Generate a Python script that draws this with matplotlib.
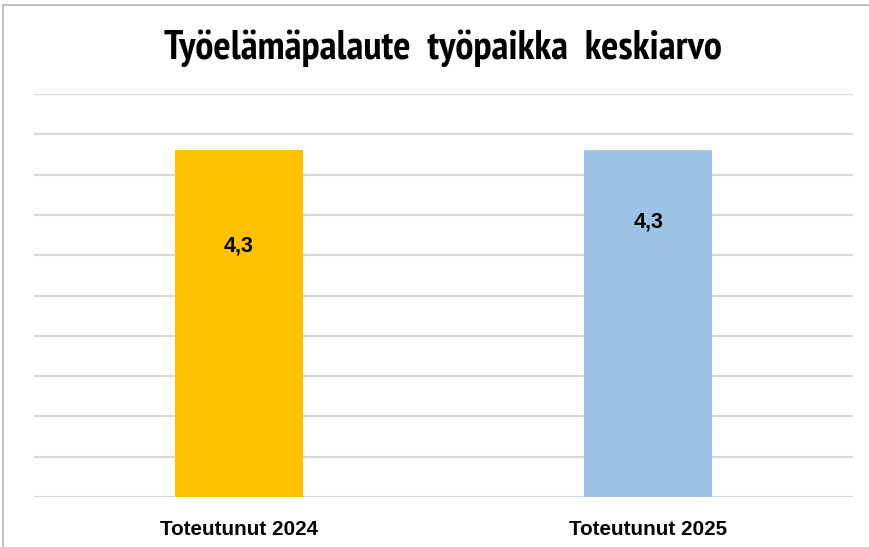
import matplotlib
matplotlib.use("Agg")
import matplotlib.pyplot as plt
from matplotlib import font_manager
from matplotlib.lines import Line2D

categories = ["Toteutunut 2024", "Toteutunut 2025"]
values = [4.3, 4.3]
value_labels = ["4,3", "4,3"]
bar_colors = ["#FFC000", "#9DC3E6"]
label_y = [3.11, 3.41]  # vertical placement of the value labels inside the bars
title = "Työelämäpalaute  työpaikka  keskiarvo"

installed = {f.name for f in font_manager.fontManager.ttflist}
narrow_pref = ["Liberation Sans Narrow", "Arial Narrow", "PT Sans Narrow",
               "Roboto Condensed", "Archivo Narrow", "Open Sans Condensed",
               "Barlow Semi Condensed"]
narrow = [n for n in narrow_pref if n in installed][:1] + ["DejaVu Sans"]
regular = ["Liberation Sans", "DejaVu Sans"]

W, H = 869, 547
fig = plt.figure(figsize=(W / 100, H / 100), dpi=100)
ax = fig.add_axes([34 / W, 1 - 497 / H, (853 - 34) / W, (497 - 94) / H])

x = list(range(len(categories)))
ax.bar(x, values, width=0.3125, color=bar_colors, zorder=3)
ax.set_xlim(-0.5, 1.5)
ax.set_ylim(0, 5)
ax.set_yticks([i * 0.5 for i in range(11)])
ax.yaxis.grid(True, color="#d9d9d9", linewidth=1.6, zorder=0)
ax.tick_params(axis="y", left=False, labelleft=False)
ax.tick_params(axis="x", bottom=False, pad=13)
ax.set_xticks(x)
ax.set_xticklabels(categories, fontfamily=regular, fontweight="bold", fontsize=14.9)
for s in ax.spines.values():
    s.set_visible(False)

for xi, lab, ly in zip(x, value_labels, label_y):
    ax.text(xi, ly, lab, ha="center", va="center", fontfamily=regular,
            fontweight="bold", fontsize=15.5, color="black", zorder=4)

title_text = fig.text(0.510, 1 - 48 / H, title, ha="center", va="center",
                      fontfamily=narrow, fontweight="bold", fontsize=24)

# scale the condensed title so its printed width fits the layout
renderer = fig.canvas.get_renderer()
w = title_text.get_window_extent(renderer).width
title_text.set_fontsize(title_text.get_fontsize() * 559 / w)

# outer frame of the chart area
fig.add_artist(Line2D([3 / W, 1], [1 - 5 / H, 1 - 5 / H], color="#c0c0c0", linewidth=1.5))
fig.add_artist(Line2D([3 / W, 3 / W], [0, 1 - 5 / H], color="#c0c0c0", linewidth=1.5))

fig.savefig("out.png", dpi=100)
